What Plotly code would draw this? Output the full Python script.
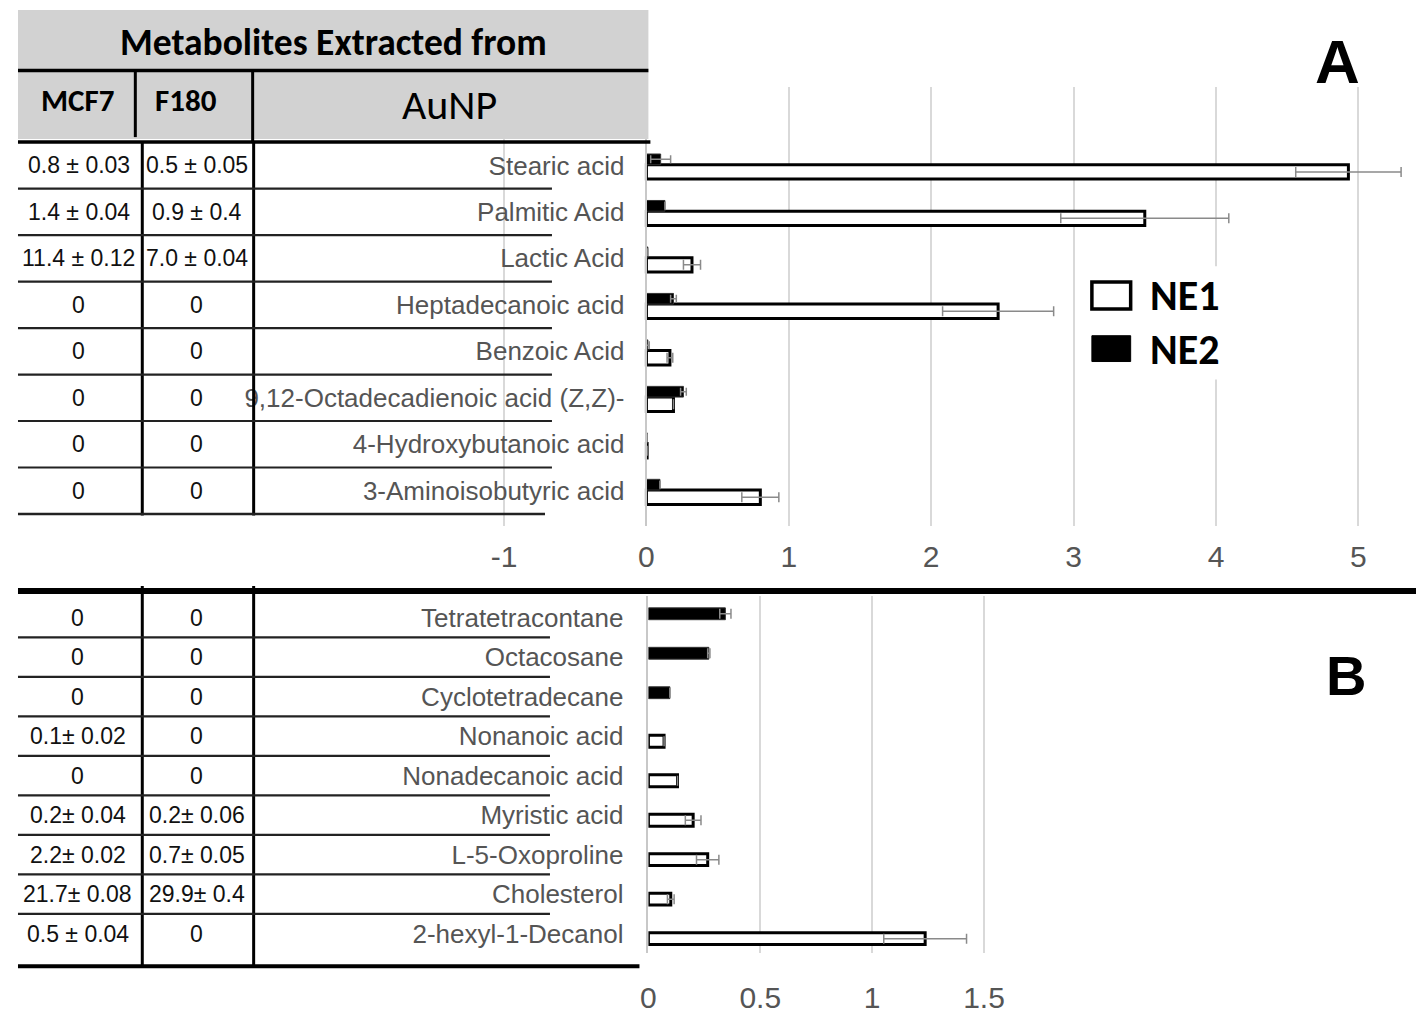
import plotly.graph_objects as go

W, H = 1424, 1014          # reference canvas
OFF = 8                    # default page margin of the html body
FW, FH = W - OFF, H - OFF  # figure size so that figure pixels line up with the page

# ---------------- data: panel A ----------------
a_categories = ["Stearic acid", "Palmitic Acid", "Lactic Acid", "Heptadecanoic acid",
                "Benzoic Acid", "9,12-Octadecadienoic acid (Z,Z)-",
                "4-Hydroxybutanoic acid", "3-Aminoisobutyric acid"]
a_ne1 = [4.93, 3.50, 0.32, 2.47, 0.165, 0.19, 0.005, 0.80]
a_ne1_err = [0.37, 0.59, 0.06, 0.39, 0.02, 0.0, 0.0, 0.13]
a_ne2 = [0.10, 0.13, 0.01, 0.19, 0.01, 0.26, 0.005, 0.095]
a_ne2_err = [0.07, 0.0, 0.0, 0.02, 0.01, 0.02, 0.0, 0.0]
a_mcf7 = ["0.8 ± 0.03", "1.4 ± 0.04", "11.4 ± 0.12", "0", "0", "0", "0", "0"]
a_f180 = ["0.5 ± 0.05", "0.9 ± 0.4", "7.0 ± 0.04", "0", "0", "0", "0", "0"]
a_ticks = [-1, 0, 1, 2, 3, 4, 5]

# ---------------- data: panel B ----------------
b_categories = ["Tetratetracontane", "Octacosane", "Cyclotetradecane", "Nonanoic acid",
                "Nonadecanoic acid", "Myristic acid", "L-5-Oxoproline", "Cholesterol",
                "2-hexyl-1-Decanol"]
b_ne1 = [None, None, None, 0.07, 0.13, 0.20, 0.265, 0.10, 1.237]
b_ne1_err = [0, 0, 0, 0.0, 0.0, 0.035, 0.05, 0.015, 0.185]
b_ne2 = [0.344, 0.27, 0.096, None, None, None, None, None, None]
b_ne2_err = [0.025, 0.005, 0.0, 0, 0, 0, 0, 0, 0]
b_mcf7 = ["0", "0", "0", "0.1± 0.02", "0", "0.2± 0.04", "2.2± 0.02", "21.7± 0.08", "0.5 ± 0.04"]
b_f180 = ["0", "0", "0", "0", "0", "0.2± 0.06", "0.7± 0.05", "29.9± 0.4", "0"]
b_ticks = [0, 0.5, 1, 1.5]
b_ticktext = ["0", "0.5", "1", "1.5"]

series_names = ["NE1", "NE2"]
header_title = "Metabolites Extracted from"
header_cols = ["MCF7", "F180", "AuNP"]

# ---------------- geometry helpers (reference pixels -> paper) ----------------
def px(p):
    return (p - OFF) / FW

def py(p):
    return 1 - (p - OFF) / FH

NARROW = "Liberation Sans, Arial, sans-serif"
HEAD = "Carlito, Lato, Open Sans, sans-serif"
AXIS_GRAY = "#555555"
GRID = "#d9d9d9"
ERR = "#8a8a8a"

# panel A scale
A_ZERO, A_PPU = 642, 143.2
A_XRANGE = [-1.5, 5.37]
A_TOP, A_BOT = 88, 530
A_C0, A_ROW = 166.5, 46.8
A_YRANGE = [(A_BOT - A_C0) / A_ROW, (A_TOP - A_C0) / A_ROW]

# panel B scale
B_ZERO, B_PPU = 644, 225.0
B_XRANGE = [0, 1.75]
B_TOP, B_BOT = 600, 960
B_C0, B_ROW = 622, 39.75
B_YRANGE = [(B_BOT - B_C0) / B_ROW, (B_TOP - B_C0) / B_ROW]

fig = go.Figure()

# NE1 / NE2 bars, panel A
fig.add_trace(go.Bar(
    y=a_categories, x=a_ne1, orientation="h", name=series_names[0],
    marker=dict(color="white", line=dict(color="black", width=3)),
    width=0.31, offset=-0.015,
    error_x=dict(type="data", array=a_ne1_err, color=ERR, thickness=1.5, width=5),
    xaxis="x", yaxis="y", showlegend=False))
fig.add_trace(go.Bar(
    y=a_categories, x=a_ne2, orientation="h", name=series_names[1],
    marker=dict(color="black", line=dict(color="#333333", width=1)),
    width=0.23, offset=-0.245,
    error_x=dict(type="data", array=a_ne2_err, color=ERR, thickness=1.5, width=4),
    xaxis="x", yaxis="y", showlegend=False))

# panel B
fig.add_trace(go.Bar(
    y=b_categories, x=b_ne1, orientation="h", name=series_names[0],
    marker=dict(color="white", line=dict(color="black", width=3)),
    width=0.3, offset=-0.02,
    error_x=dict(type="data", array=b_ne1_err, color=ERR, thickness=1.5, width=5),
    xaxis="x2", yaxis="y2", showlegend=False))
fig.add_trace(go.Bar(
    y=b_categories, x=b_ne2, orientation="h", name=series_names[1],
    marker=dict(color="black", line=dict(color="#333333", width=1)),
    width=0.3, offset=-0.25,
    error_x=dict(type="data", array=b_ne2_err, color=ERR, thickness=1.5, width=5),
    xaxis="x2", yaxis="y2", showlegend=False))

tickfont = dict(family=NARROW, size=30, color=AXIS_GRAY)
labelfont = dict(family=NARROW, size=26, color=AXIS_GRAY)

fig.update_layout(
    width=FW, height=FH, margin=dict(l=0, r=0, t=0, b=0),
    paper_bgcolor="white", plot_bgcolor="rgba(0,0,0,0)",
    barmode="overlay", showlegend=False,
    xaxis=dict(
        domain=[px(A_ZERO + A_XRANGE[0] * A_PPU), px(A_ZERO + A_XRANGE[1] * A_PPU)],
        range=A_XRANGE, anchor="y", tickvals=a_ticks, ticktext=[str(t) for t in a_ticks],
        showgrid=True, gridcolor=GRID, gridwidth=1.5, zeroline=False, showline=False,
        ticks="", ticklabelstandoff=10, tickfont=tickfont),
    yaxis=dict(
        domain=[py(A_BOT), py(A_TOP)], range=A_YRANGE, type="category",
        categoryorder="array", categoryarray=a_categories,
        anchor="free", position=px(A_ZERO), showline=True, linecolor="#c8c8c8", linewidth=1.5,
        showgrid=False, zeroline=False, ticks="", ticklabelstandoff=16, tickfont=labelfont),
    xaxis2=dict(
        domain=[px(B_ZERO + B_XRANGE[0] * B_PPU), px(B_ZERO + B_XRANGE[1] * B_PPU)],
        range=B_XRANGE, anchor="y2", tickvals=b_ticks, ticktext=b_ticktext,
        showgrid=True, gridcolor=GRID, gridwidth=1.5, zeroline=False, showline=False,
        ticks="", ticklabelstandoff=24, tickfont=tickfont),
    yaxis2=dict(
        domain=[py(B_BOT), py(B_TOP)], range=B_YRANGE, type="category",
        categoryorder="array", categoryarray=b_categories,
        anchor="x2", showline=True, linecolor="#c8c8c8", linewidth=1.5,
        showgrid=False, zeroline=False, ticks="", ticklabelstandoff=18, tickfont=labelfont),
)

shapes = []
ann = []

def hline(x0, x1, y, w, yref="paper", color="black"):
    shapes.append(dict(type="line", xref="paper", yref=yref, x0=px(x0), x1=px(x1),
                       y0=y, y1=y, line=dict(color=color, width=w), layer="above"))

def vline(x, y0, y1, w, color="black"):
    shapes.append(dict(type="line", xref="paper", yref="paper", x0=px(x), x1=px(x),
                       y0=py(y0), y1=py(y1), line=dict(color=color, width=w), layer="above"))

def rect(x0, y0, x1, y1, fill, lc=None, lw=0):
    shapes.append(dict(type="rect", xref="paper", yref="paper", x0=px(x0), x1=px(x1),
                       y0=py(y1), y1=py(y0), fillcolor=fill,
                       line=dict(color=lc or fill, width=lw), layer="above"))

def text(x, y, s, size, family, color="black", bold=False, xanchor="center", yref="paper"):
    ann.append(dict(x=px(x), y=y if yref != "paper" else py(y), xref="paper", yref=yref,
                    text=f"<b>{s}</b>" if bold else s, showarrow=False, xanchor=xanchor,
                    yanchor="middle", font=dict(family=family, size=size, color=color)))

CELL = 23
# ---------- table A ----------
T_L, T_R = 10, 644
rect(T_L, 10, T_R, 70, "#d2d2d2")
rect(T_L, 70, T_R, 140, "#d2d2d2")
hline(T_L, T_R, py(71), 3.5)
hline(T_L, T_R + 2, py(143), 3.5)
vline(128, 71, 138, 3)
vline(246, 71, 143, 3)
vline(135, 143, 519, 3)
vline(247, 143, 519, 3)
for i in range(len(a_categories) - 1):
    hline(T_L, 547, i + 0.5, 2.2, yref="y", color="#222222")
hline(T_L, 540, len(a_categories) - 0.5, 2.5, yref="y", color="#222222")

text(327, 42, header_title, 37.5, HEAD, bold=True)
text(70, 101, header_cols[0], 31, HEAD, bold=True)
text(179, 101, header_cols[1], 31, HEAD, bold=True)
text(444, 105, header_cols[2], 42, HEAD)
for i, (m, f) in enumerate(zip(a_mcf7, a_f180)):
    text(71, i, m, CELL, NARROW, color="#111111", yref="y")
    text(190, i, f, CELL, NARROW, color="#111111", yref="y")

# ---------- separator + table B ----------
hline(10, 1420, py(595), 6)
vline(135, 590, 973, 3)
vline(247, 590, 973, 3)
for i in range(len(b_categories) - 1):
    hline(T_L, 545, i + 0.5, 2.2, yref="y2", color="#222222")
hline(T_L, 635, py(973), 4)
for i, (m, f) in enumerate(zip(b_mcf7, b_f180)):
    text(70, i, m, CELL, NARROW, color="#111111", yref="y2")
    text(190, i, f, CELL, NARROW, color="#111111", yref="y2")

# ---------- legend ----------
rect(1078, 268, 1238, 382, "white")
rect(1090, 284, 1129, 311, "white", "black", 3.5)
rect(1090, 338, 1129, 364, "black", "black", 1)
text(1146, 298, series_names[0], 42, HEAD, bold=True, xanchor="left")
text(1146, 352, series_names[1], 42, HEAD, bold=True, xanchor="left")

# ---------- panel letters ----------
text(1337, 62, "A", 62, "Liberation Sans, Arial, sans-serif", bold=True)
text(1346, 680, "B", 56, "Liberation Sans, Arial, sans-serif", bold=True)

fig.update_layout(shapes=shapes, annotations=ann)
fig.write_html("out.html")
